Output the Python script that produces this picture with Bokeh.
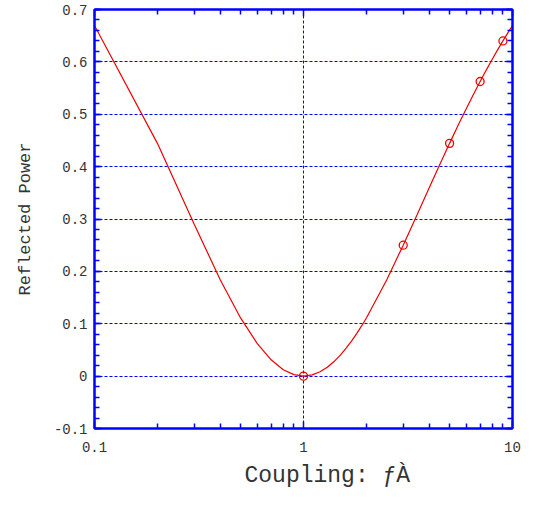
from bokeh.plotting import figure
from bokeh.models import FixedTicker, LogAxis, LinearAxis, Range1d, Title
from bokeh.embed import file_html
from bokeh.resources import INLINE

# coupling values and reflected power
coupling = [0.1, 0.2, 0.3, 0.4, 0.5, 0.6, 0.7, 0.8, 0.9, 1.0,
            1.1, 1.2, 1.3, 1.4, 1.5, 1.6, 1.7, 1.8, 1.9, 2.0,
            2.5, 3.0, 3.5, 4.0, 4.5, 5.0, 5.5, 6.0, 6.5, 7.0,
            7.5, 8.0, 8.5, 9.0, 9.5, 10.0]
reflected = [0.6694, 0.4444, 0.2899, 0.1837, 0.1111, 0.0625, 0.0311, 0.0123, 0.0028, 0.0,
             0.0023, 0.0083, 0.0170, 0.0278, 0.0400, 0.0533, 0.0672, 0.0816, 0.0963, 0.1111,
             0.1837, 0.2500, 0.3086, 0.3600, 0.4050, 0.4444, 0.4793, 0.5102, 0.5378, 0.5625,
             0.5848, 0.6049, 0.6233, 0.6400, 0.6553, 0.6694]
marker_x = [1, 3, 5, 7, 9]
marker_y = [0.0, 0.25, 0.4444, 0.5625, 0.64]

x_ticks = [0.1, 1, 10]
x_tick_labels = {0.1: "0.1", 1: "1", 10: "10"}
x_minor = [0.2, 0.3, 0.4, 0.5, 0.6, 0.7, 0.8, 0.9, 2, 3, 4, 5, 6, 7, 8, 9]
y_ticks = [-0.1, 0.0, 0.1, 0.2, 0.3, 0.4, 0.5, 0.6, 0.7]
y_tick_labels = {-0.1: "-0.1", 0.0: "0", 0.1: "0.1", 0.2: "0.2", 0.3: "0.3",
                 0.4: "0.4", 0.5: "0.5", 0.6: "0.6", 0.7: "0.7"}
y_minor = [round(-0.1 + 0.02 * i, 2) for i in range(41)]
x_title = "Coupling: ƒÀ"
y_title = "Reflected Power"

BLUE = "#0000ff"
RED = "#ee0000"
FONT = "Liberation Mono"

p = figure(width=521, height=494, x_axis_type="log",
           x_range=Range1d(0.1, 10), y_range=Range1d(-0.1, 0.7),
           output_backend="svg", toolbar_location=None,
           min_border_left=94, min_border_right=9, min_border_top=9,
           min_border_bottom=60)

p.outline_line_color = BLUE
p.outline_line_width = 2
p.outline_line_alpha = 1.0
p.background_fill_color = "white"
p.border_fill_color = "white"

xt = FixedTicker(ticks=x_ticks, minor_ticks=x_minor)
yt = FixedTicker(ticks=y_ticks, minor_ticks=y_minor)

def style_axis(ax):
    ax.axis_line_color = BLUE
    ax.axis_line_width = 2
    ax.major_tick_line_color = BLUE
    ax.minor_tick_line_color = BLUE
    ax.major_tick_line_width = 1.5
    ax.minor_tick_line_width = 1.5
    ax.major_tick_in = 7
    ax.major_tick_out = 0
    ax.minor_tick_in = 5
    ax.minor_tick_out = 0
    ax.major_label_text_font = FONT
    ax.major_label_text_font_size = "14px"
    ax.major_label_text_color = "#333333"
    ax.axis_label_text_font = FONT
    ax.axis_label_text_font_style = "normal"
    ax.axis_label_text_color = "#333333"

xa = p.xaxis[0]
xa.ticker = xt
xa.major_label_overrides = x_tick_labels
style_axis(xa)
xa.major_label_standoff = 13

ya = p.yaxis[0]
ya.ticker = yt
ya.major_label_overrides = y_tick_labels
style_axis(ya)
ya.major_label_standoff = 7
ya.axis_label = y_title
ya.axis_label_text_font_size = "17px"
ya.axis_label_standoff = 16

top = LogAxis(ticker=xt, major_label_standoff=0)
style_axis(top)
top.major_label_text_color = None
top.major_label_text_font_size = "1px"
p.add_layout(top, "above")
right = LinearAxis(ticker=yt, major_label_standoff=0)
style_axis(right)
right.major_label_text_color = None
right.major_label_text_font_size = "1px"
p.add_layout(right, "right")

p.xgrid.ticker = FixedTicker(ticks=[1])
p.ygrid.ticker = FixedTicker(ticks=y_ticks)
for g in (p.xgrid[0], p.ygrid[0]):
    g.grid_line_color = BLUE
    g.grid_line_dash = "3 2"
    g.grid_line_width = 1
    g.grid_line_alpha = 1.0

p.add_layout(Title(text=x_title, align="left", offset=150, standoff=12,
                   text_font=FONT, text_font_size="23px",
                   text_font_style="normal", text_color="#333333"), "below")

p.line(coupling, reflected, line_color=RED, line_width=1.2)
p.scatter(marker_x, marker_y, marker="circle", size=8, fill_color=None,
          line_color=RED, line_width=1.3)

open("out.html", "w").write(file_html(p, INLINE))
